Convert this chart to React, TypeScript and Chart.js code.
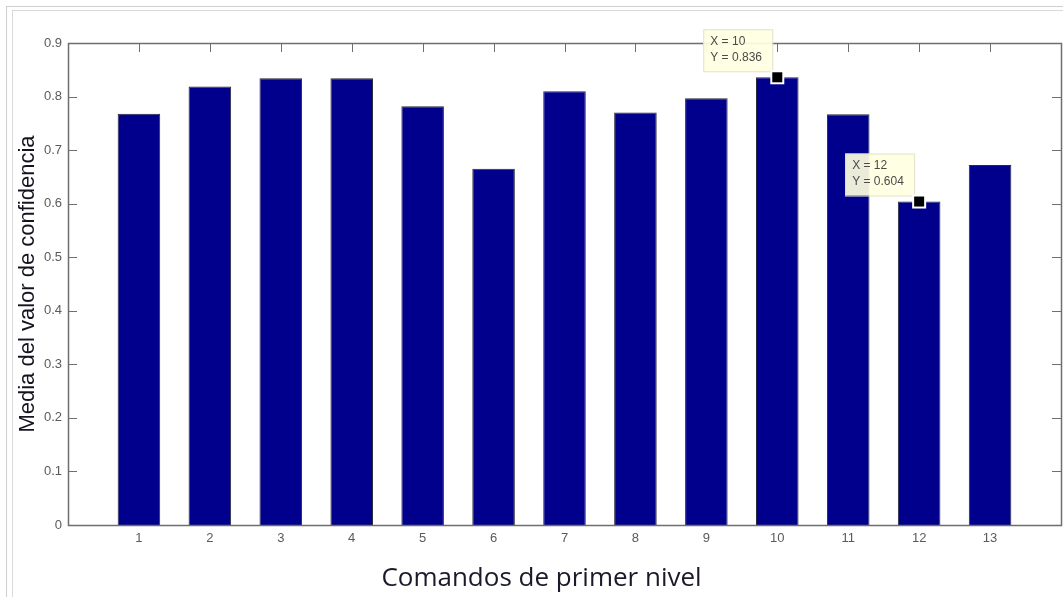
import React, { useEffect, useRef } from "react";
import { Chart, registerables } from "chart.js";

Chart.register(...registerables);

const categories = [1, 2, 3, 4, 5, 6, 7, 8, 9, 10, 11, 12, 13];
const values = [0.768, 0.819, 0.834, 0.834, 0.782, 0.665, 0.81, 0.77, 0.797, 0.836, 0.767, 0.604, 0.672];
const yTicks = [0, 0.1, 0.2, 0.3, 0.4, 0.5, 0.6, 0.7, 0.8, 0.9];
const dataTipCategories = [10, 12];
const xTitle = "Comandos de primer nivel";
const yTitle = "Media del valor de confidencia";

const AXIS_COLOR = "#6e6e6e";
const TICK_COLOR = "#5a5a5a";

const matlabAxesPlugin = {
  id: "matlabAxes",
  beforeDatasetsDraw(chart: any) {
    const { ctx, chartArea } = chart;
    const xs = chart.scales.x;
    const ys = chart.scales.y;
    const len = 9;
    ctx.save();
    ctx.strokeStyle = AXIS_COLOR;
    ctx.lineWidth = 1;
    ctx.beginPath();
    categories.forEach((c) => {
      const px = Math.round(xs.getPixelForValue(c)) + 0.5;
      ctx.moveTo(px, chartArea.top);
      ctx.lineTo(px, chartArea.top + len);
      ctx.moveTo(px, chartArea.bottom);
      ctx.lineTo(px, chartArea.bottom - len);
    });
    yTicks.forEach((v) => {
      const py = Math.round(ys.getPixelForValue(v)) + 0.5;
      ctx.moveTo(chartArea.left, py);
      ctx.lineTo(chartArea.left + len, py);
      ctx.moveTo(chartArea.right, py);
      ctx.lineTo(chartArea.right - len, py);
    });
    ctx.stroke();
    ctx.restore();
  },
  afterDatasetsDraw(chart: any) {
    const { ctx, chartArea } = chart;
    const xs = chart.scales.x;
    const ys = chart.scales.y;
    ctx.save();
    // box frame
    ctx.strokeStyle = AXIS_COLOR;
    ctx.lineWidth = 1.5;
    ctx.strokeRect(
      Math.round(chartArea.left) + 0.5,
      Math.round(chartArea.top) + 0.5,
      Math.round(chartArea.right - chartArea.left),
      Math.round(chartArea.bottom - chartArea.top)
    );
    // data tips
    dataTipCategories.forEach((c) => {
      const idx = categories.indexOf(c);
      const v = values[idx];
      const mx = xs.getPixelForValue(c);
      const my = ys.getPixelForValue(v);
      const bw = 69;
      const bh = 42;
      const bx = mx - 5 - bw;
      const by = my - 6 - bh;
      ctx.fillStyle = "rgba(255,255,225,0.92)";
      ctx.strokeStyle = "#e2e2c6";
      ctx.lineWidth = 1;
      ctx.fillRect(bx, by, bw, bh);
      ctx.strokeRect(bx + 0.5, by + 0.5, bw, bh);
      ctx.fillStyle = "#4a4a4a";
      ctx.font = "12px 'Liberation Sans', Arial, sans-serif";
      ctx.textAlign = "left";
      ctx.textBaseline = "middle";
      ctx.fillText("X = " + c, bx + 7, by + 12);
      ctx.fillText("Y = " + v.toFixed(3), bx + 7, by + 28);
      // marker
      ctx.fillStyle = "#ffffff";
      ctx.fillRect(mx - 7, my - 7, 14, 14);
      ctx.fillStyle = "#000000";
      ctx.fillRect(mx - 5, my - 5, 10, 10);
    });
    // x title
    ctx.fillStyle = "#1a1a2a";
    ctx.font = "26px 'Open Sans', 'Noto Sans', sans-serif";
    ctx.textAlign = "center";
    ctx.textBaseline = "middle";
    ctx.fillText(xTitle, (chartArea.left + chartArea.right) / 2 - 23, 579);
    ctx.restore();
  },
};

export default function App() {
  const canvasRef = useRef<HTMLCanvasElement | null>(null);

  useEffect(() => {
    if (!canvasRef.current) return;
    const chart = new Chart(canvasRef.current, {
      type: "bar",
      data: {
        datasets: [
          {
            data: categories.map((c, i) => ({ x: c, y: values[i] })),
            backgroundColor: "rgb(0,0,140)",
            borderColor: "#2a2a3a",
            borderWidth: 1,
            barPercentage: 0.6,
            categoryPercentage: 1,
          },
        ],
      },
      options: {
        animation: false,
        responsive: false,
        maintainAspectRatio: false,
        layout: { padding: { top: 43, right: 2, left: 0, bottom: 0 } },
        plugins: {
          legend: { display: false },
          tooltip: { enabled: false },
        },
        scales: {
          x: {
            type: "linear",
            min: 0,
            max: 14,
            offset: false,
            grid: { display: false, drawTicks: false },
            border: { display: false },
            afterFit: (scale: any) => {
              scale.height = 72;
              scale.paddingRight = 0;
              scale.paddingLeft = 0;
            },
            ticks: {
              stepSize: 1,
              autoSkip: false,
              maxRotation: 0,
              padding: 6,
              color: TICK_COLOR,
              font: { family: "'Liberation Sans', Arial, sans-serif", size: 13 },
              callback: (v: any) => (categories.includes(Number(v)) ? String(v) : ""),
            },
          },
          y: {
            min: 0,
            max: 0.9,
            grid: { display: false, drawTicks: false },
            border: { display: false },
            afterFit: (scale: any) => {
              scale.width = 68;
            },
            ticks: {
              stepSize: 0.1,
              padding: 6,
              color: TICK_COLOR,
              font: { family: "'Liberation Sans', Arial, sans-serif", size: 13 },
              callback: (v: any) => {
                const n = Math.round(Number(v) * 10) / 10;
                return n === 0 ? "0" : String(n);
              },
            },
            title: {
              display: true,
              text: yTitle,
              color: "#141420",
              font: { family: "'Liberation Sans', Arial, sans-serif", size: 22 },
              padding: { top: 15, bottom: 0 },
            },
          },
        },
      },
      plugins: [matlabAxesPlugin],
    });
    return () => chart.destroy();
  }, []);

  return (
    <div style={{ position: "absolute", left: 0, top: 0, width: 1063, height: 597, background: "#fff" }}>
      <div
        style={{
          position: "absolute",
          left: 6,
          top: 6,
          right: 0,
          bottom: 0,
          borderLeft: "1px solid #cfcfcf",
          borderTop: "1px solid #cfcfcf",
        }}
      />
      <div
        style={{
          position: "absolute",
          left: 12,
          top: 10,
          right: 0,
          bottom: 0,
          borderLeft: "1px solid #dadada",
          borderTop: "1px solid #dadada",
        }}
      />
      <canvas ref={canvasRef} width={1063} height={597} style={{ position: "absolute", left: 0, top: 0 }} />
    </div>
  );
}
